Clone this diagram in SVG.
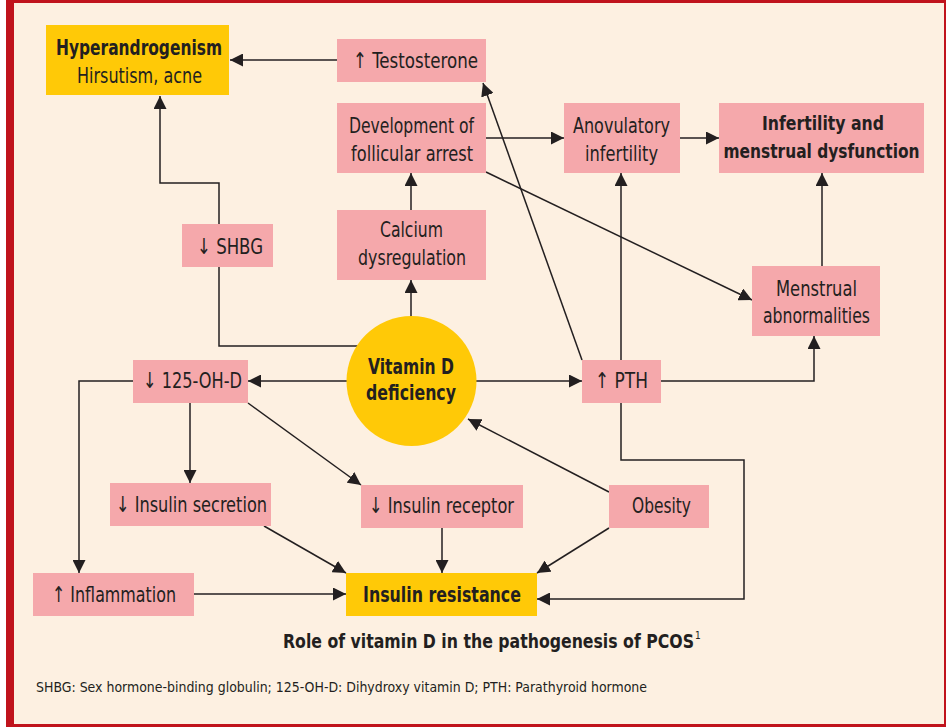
<svg xmlns="http://www.w3.org/2000/svg" width="946" height="727" viewBox="0 0 946 727">
<defs>
<marker id="ah" markerUnits="userSpaceOnUse" markerWidth="13" markerHeight="13" refX="13" refY="6.5" orient="auto">
<path d="M0,0 L13,6.5 L0,13 z" fill="#231F20"/>
</marker>
<style>
.bg{fill:#FDF0E1}
.pink{fill:#F5A8AB}
.yel{fill:#FFC907}
.c{fill:none;stroke:#231F20;stroke-width:1.5;marker-end:url(#ah)}
text{font-family:"Liberation Sans Narrow","DejaVu Sans Condensed","Liberation Sans",Arial,sans-serif;font-stretch:condensed;fill:#231F20;font-size:22px;text-anchor:middle}
.b{font-weight:bold}
</style>
</defs>
<rect x="0" y="0" width="946" height="727" fill="#FFFFFF"/>
<rect x="6" y="0" width="940" height="727" fill="#C0131C"/>
<rect x="14" y="3" width="930" height="721" class="bg"/>

<g id="connectors">
<path class="c" d="M337,60 H230"/>
<path class="c" d="M360,346 H219 V183 H160 V96"/>
<path class="c" d="M411,320 V280"/>
<path class="c" d="M411,210 V173"/>
<path class="c" d="M486,138 H564"/>
<path class="c" d="M680,138 H719"/>
<path class="c" d="M822,266 V173"/>
<path class="c" d="M486,172 L752,300"/>
<path class="c" d="M582,360 L483,83"/>
<path class="c" d="M470,381 H582"/>
<path class="c" d="M661,381 H814 V336"/>
<path class="c" d="M621,365 V173"/>
<path class="c" d="M621,400 V460 H744 V599 H537"/>
<path class="c" d="M350,381 H248"/>
<path class="c" d="M133,381 H79 V573"/>
<path class="c" d="M190,403 V483"/>
<path class="c" d="M248,403 L361,485"/>
<path class="c" d="M609,492 L468,419"/>
<path class="c" d="M609,528 L537,573"/>
<path class="c" d="M264,526 L346,573"/>
<path class="c" d="M442,528 V573"/>
<path class="c" d="M194,594 H346"/>
</g>

<g id="hyperandrogenism">
<rect x="46" y="25" width="183" height="70" class="yel"/>
<text x="139" y="55" class="b" textLength="166" lengthAdjust="spacingAndGlyphs">Hyperandrogenism</text>
<text x="139.5" y="83" textLength="125" lengthAdjust="spacingAndGlyphs">Hirsutism, acne</text>
</g>
<g id="testosterone">
<rect x="337" y="39" width="149" height="43" class="pink"/>
<text x="415.5" y="68" textLength="125" lengthAdjust="spacingAndGlyphs">↑ Testosterone</text>
</g>
<g id="follicular">
<rect x="337" y="103" width="149" height="70" class="pink"/>
<text x="411.5" y="133" textLength="125" lengthAdjust="spacingAndGlyphs">Development of</text>
<text x="412" y="161" textLength="122" lengthAdjust="spacingAndGlyphs">follicular arrest</text>
</g>
<g id="anovulatory">
<rect x="564" y="103" width="116" height="70" class="pink"/>
<text x="621.5" y="133" textLength="97" lengthAdjust="spacingAndGlyphs">Anovulatory</text>
<text x="621.5" y="161" textLength="73" lengthAdjust="spacingAndGlyphs">infertility</text>
</g>
<g id="infertility">
<rect x="719" y="103" width="205" height="70" class="pink"/>
<text x="823" y="130" class="b" style="font-size:20px" textLength="122" lengthAdjust="spacingAndGlyphs">Infertility and</text>
<text x="821.5" y="158" class="b" style="font-size:20px" textLength="196" lengthAdjust="spacingAndGlyphs">menstrual dysfunction</text>
</g>
<g id="shbg">
<rect x="182" y="224" width="91" height="43" class="pink"/>
<text x="230" y="254" textLength="66" lengthAdjust="spacingAndGlyphs">↓ SHBG</text>
</g>
<g id="calcium">
<rect x="337" y="210" width="149" height="70" class="pink"/>
<text x="411.5" y="237" textLength="63" lengthAdjust="spacingAndGlyphs">Calcium</text>
<text x="412" y="265" textLength="108" lengthAdjust="spacingAndGlyphs">dysregulation</text>
</g>
<g id="menstrual">
<rect x="752" y="266" width="128" height="70" class="pink"/>
<text x="816.5" y="296" textLength="81" lengthAdjust="spacingAndGlyphs">Menstrual</text>
<text x="816.5" y="323" textLength="107" lengthAdjust="spacingAndGlyphs">abnormalities</text>
</g>
<g id="vitamind">
<circle cx="411.5" cy="381" r="65" class="yel"/>
<text x="411" y="374" class="b" textLength="86" lengthAdjust="spacingAndGlyphs">Vitamin D</text>
<text x="411" y="400" class="b" textLength="90" lengthAdjust="spacingAndGlyphs">deficiency</text>
</g>
<g id="ohd">
<rect x="133" y="360" width="115" height="43" class="pink"/>
<text x="192.5" y="388" textLength="99" lengthAdjust="spacingAndGlyphs">↓ 125-OH-D</text>
</g>
<g id="pth">
<rect x="582" y="360" width="79" height="43" class="pink"/>
<text x="621.5" y="388" textLength="53" lengthAdjust="spacingAndGlyphs">↑ PTH</text>
</g>
<g id="insulin-secretion">
<rect x="110" y="483" width="161" height="43" class="pink"/>
<text x="191.5" y="512" textLength="151" lengthAdjust="spacingAndGlyphs">↓ Insulin secretion</text>
</g>
<g id="insulin-receptor">
<rect x="361" y="485" width="162" height="43" class="pink"/>
<text x="441.5" y="513" textLength="145" lengthAdjust="spacingAndGlyphs">↓ Insulin receptor</text>
</g>
<g id="obesity">
<rect x="609" y="485" width="100" height="43" class="pink"/>
<text x="661.5" y="513" textLength="59" lengthAdjust="spacingAndGlyphs">Obesity</text>
</g>
<g id="inflammation">
<rect x="33" y="573" width="161" height="43" class="pink"/>
<text x="114" y="602" textLength="124" lengthAdjust="spacingAndGlyphs">↑ Inflammation</text>
</g>
<g id="insulin-resistance">
<rect x="346" y="573" width="191" height="43" class="yel"/>
<text x="442" y="602" class="b" textLength="158" lengthAdjust="spacingAndGlyphs">Insulin resistance</text>
</g>

<g id="caption">
<text x="283" y="648" class="b" style="font-size:19px;text-anchor:start"><tspan textLength="411" lengthAdjust="spacingAndGlyphs">Role of vitamin D in the pathogenesis of PCOS</tspan><tspan dx="1" dy="-9" style="font-size:10px;font-weight:normal">1</tspan></text>
<text x="36" y="692" style="font-size:14px;text-anchor:start" textLength="611" lengthAdjust="spacingAndGlyphs">SHBG: Sex hormone-binding globulin; 125-OH-D: Dihydroxy vitamin D; PTH: Parathyroid hormone</text>
</g>
</svg>
